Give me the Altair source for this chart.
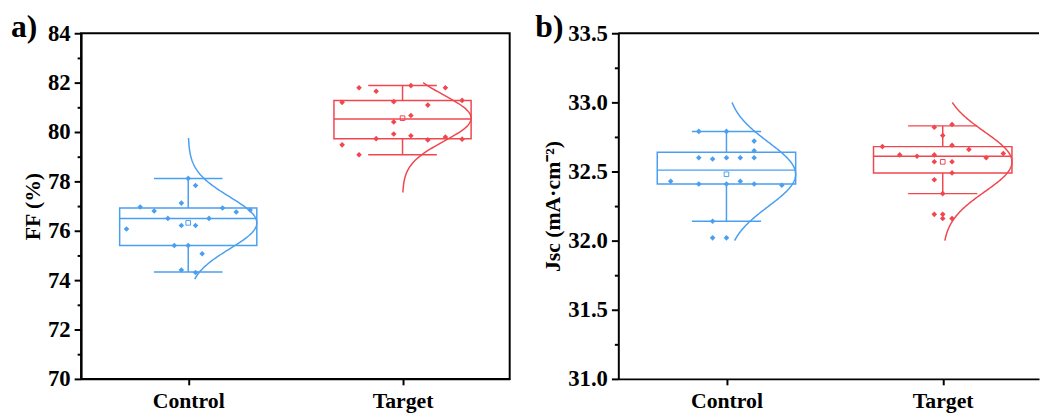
import altair as alt
import numpy as np
import pandas as pd

# ---------------- data ----------------
groups = ["Control", "Target"]

# panel a) FF (%) — individual points
ff_control = [78.12, 77.83, 77.12, 76.96, 76.80, 76.92, 76.76, 76.84, 76.50, 76.50,
              76.21, 76.21, 76.07, 75.40, 75.40, 75.07, 74.41, 74.31]
ff_control_jit = [0.000, 0.034, -0.032, -0.224, -0.159, 0.160, 0.224, 0.289, -0.095, 0.097,
                  -0.032, 0.034, -0.288, -0.065, 0.000, 0.065, -0.032, 0.034]
ff_target = [81.79, 81.88, 81.79, 81.65, 81.20, 81.23, 81.28, 81.09, 80.67, 80.41,
             79.92, 79.85, 79.73, 79.68, 79.80, 79.71, 79.48, 79.08]
ff_target_jit = [-0.203, 0.039, 0.200, -0.123, -0.282, -0.041, 0.278, 0.118, 0.039, -0.041,
                 -0.041, 0.039, -0.123, 0.118, 0.200, 0.278, -0.282, -0.203]
# box statistics: [Control, Target]
ff_q1 = [75.40, 79.73]
ff_median = [76.50, 80.53]
ff_q3 = [76.92, 81.28]
ff_whisker_lo = [74.33, 79.08]
ff_whisker_hi = [78.12, 81.88]
ff_mean = [76.32, 80.56]
ff_curve_range = [(74.04, 79.76), (77.55, 82.00)]

# panel b) Jsc (mA·cm-2) — individual points
jsc_control = [32.79, 32.79, 32.72, 32.65, 32.60, 32.59, 32.60, 32.60, 32.60,
               32.43, 32.41, 32.41, 32.41, 32.43, 32.40, 32.14, 32.02, 32.02]
jsc_control_jit = [-0.128, 0.000, 0.128, 0.128, -0.128, -0.064, 0.000, 0.064, 0.128,
                   -0.258, -0.128, 0.000, 0.128, 0.064, 0.256, -0.064, -0.064, 0.000]
jsc_target = [32.82, 32.84, 32.76, 32.68, 32.69, 32.66, 32.62, 32.61, 32.62, 32.60,
              32.63, 32.57, 32.57, 32.49, 32.44, 32.34, 32.19, 32.19, 32.16, 32.16]
jsc_target_jit = [-0.039, 0.043, 0.000, -0.279, 0.043, 0.121, -0.199, -0.119, -0.039, 0.201,
                  0.280, -0.039, 0.043, 0.043, -0.039, 0.000, -0.039, 0.000, 0.000, 0.043]
jsc_q1 = [32.41, 32.49]
jsc_median = [32.51, 32.61]
jsc_q3 = [32.64, 32.68]
jsc_whisker_lo = [32.14, 32.34]
jsc_whisker_hi = [32.79, 32.83]
jsc_mean = [32.48, 32.57]
jsc_curve_range = [(32.00, 33.00), (32.00, 33.00)]

ff_ticks = list(range(70, 85))
jsc_ticks = [31.0 + 0.25 * k for k in range(11)]

# ---------------- styling ----------------
FONT = "Liberation Serif"
BLUE = "#4a9ff0"
RED = "#f0474f"
HALF_BOX = 0.32
HALF_CAP = 0.16
H = 350


def panel(vals_list, jit_list, q1, med, q3, wlo, whi, mean_v, curve_ranges,
          ydomain, yticks, label_test, yfmt, ytitle, tag, width, xmax, tag_x, framed):
    pts, boxes, curves = [], [], []
    for i, (g, vals, jit, (clo, chi)) in enumerate(zip(groups, vals_list, jit_list, curve_ranges)):
        pos = i + 1
        sd = float(np.std(np.asarray(vals, float), ddof=1))
        for v, j in zip(vals, jit):
            pts.append(dict(group=g, x=pos + j, y=v))
        boxes.append(dict(group=g, pos=pos, left=pos - HALF_BOX, right=pos + HALF_BOX,
                          capl=pos - HALF_CAP, capr=pos + HALF_CAP,
                          q1=q1[i], med=med[i], q3=q3[i], lo=wlo[i], hi=whi[i], mean=mean_v[i]))
        ys = np.linspace(clo, chi, 150)
        xs = pos + HALF_BOX * np.exp(-(ys - mean_v[i]) ** 2 / (2 * sd ** 2))
        for k, (xx, yy) in enumerate(zip(xs, ys)):
            curves.append(dict(group=g, x=xx, y=yy, order=k))
    pts = pd.DataFrame(pts)
    boxes = pd.DataFrame(boxes)
    curves = pd.DataFrame(curves)

    xscale = alt.Scale(domain=[0.5, xmax], nice=False, zero=False)
    yscale = alt.Scale(domain=ydomain, nice=False, zero=False)
    xaxis = alt.Axis(values=[1, 2], labelExpr="datum.value == 1 ? 'Control' : 'Target'",
                     title=None, grid=False, labelFont=FONT, labelFontSize=22,
                     labelFontWeight="bold", labelColor="black", labelPadding=6,
                     tickSize=6, tickWidth=2, tickColor="black",
                     domainColor="black", domainWidth=2)
    yaxis = alt.Axis(values=yticks, labelExpr=label_test, format=yfmt, title=ytitle,
                     grid=False, labelFont=FONT, labelFontSize=23, labelFontWeight="bold",
                     labelColor="black", labelPadding=4,
                     tickSize={"condition": {"test": label_test.split(" ?")[0], "value": 7}, "value": 4},
                     tickWidth=2, tickColor="black", domainColor="black", domainWidth=2,
                     titleFont=FONT, titleFontSize=22, titleFontWeight="bold",
                     titleColor="black", titlePadding=3)

    def X(f):
        return alt.X(f, type="quantitative", scale=xscale, axis=xaxis)

    def Y(f):
        return alt.Y(f, type="quantitative", scale=yscale, axis=yaxis)

    col = alt.Color("group:N", scale=alt.Scale(domain=groups, range=[BLUE, RED]), legend=None)

    base_b = alt.Chart(boxes)
    box = base_b.mark_rect(fillOpacity=0, strokeWidth=1.5).encode(
        x=X("left"), x2="right", y=Y("q1"), y2="q3", stroke=col)
    medl = base_b.mark_rule(strokeWidth=1.5).encode(x=X("left"), x2="right", y=Y("med"), color=col)
    wh_up = base_b.mark_rule(strokeWidth=1.5).encode(x=X("pos"), y=Y("q3"), y2="hi", color=col)
    wh_lo = base_b.mark_rule(strokeWidth=1.5).encode(x=X("pos"), y=Y("lo"), y2="q1", color=col)
    cap_up = base_b.mark_rule(strokeWidth=1.5).encode(x=X("capl"), x2="capr", y=Y("hi"), color=col)
    cap_lo = base_b.mark_rule(strokeWidth=1.5).encode(x=X("capl"), x2="capr", y=Y("lo"), color=col)
    meanm = base_b.mark_point(shape="square", filled=False, size=22, strokeWidth=1, opacity=1).encode(
        x=X("pos"), y=Y("mean"), color=col)
    dots = alt.Chart(pts).mark_point(shape="diamond", filled=True, size=32, opacity=1).encode(
        x=X("x"), y=Y("y"), color=col)
    curve = alt.Chart(curves).mark_line(strokeWidth=1.5).encode(
        x=X("x"), y=Y("y"), order="order:Q", detail="group:N", color=col)
    label = alt.Chart(pd.DataFrame({"t": [tag]})).mark_text(
        align="left", baseline="alphabetic", font=FONT, fontSize=32, fontWeight="bold",
        color="black").encode(x=alt.value(tag_x), y=alt.value(4), text="t:N")

    layers = [box, medl, wh_up, wh_lo, cap_up, cap_lo, curve, dots, meanm, label]
    if framed:
        view = alt.ViewBackground(stroke="black", strokeWidth=2)
    else:
        view = alt.ViewBackground(stroke="transparent")
        top = alt.Chart(pd.DataFrame({"t": [0]})).mark_rule(color="black", strokeWidth=2).encode(
            x=alt.value(0), x2=alt.value(width), y=alt.value(0))
        layers.append(top)
    return alt.layer(*layers).properties(width=width, height=H, view=view)


pa = panel([ff_control, ff_target], [ff_control_jit, ff_target_jit],
           ff_q1, ff_median, ff_q3, ff_whisker_lo, ff_whisker_hi, ff_mean, ff_curve_range,
           [70, 84], ff_ticks, "datum.value % 2 == 0 ? datum.label : ''", "d",
           "FF (%)", "a)", 434, 2.5, -71, True)
wb = 426
pb = panel([jsc_control, jsc_target], [jsc_control_jit, jsc_target_jit],
           jsc_q1, jsc_median, jsc_q3, jsc_whisker_lo, jsc_whisker_hi, jsc_mean, jsc_curve_range,
           [31.0, 33.5], jsc_ticks, "round(datum.value * 4) % 2 == 0 ? datum.label : ''", ".1f",
           "Jsc (mA·cm⁻²)", "b)", wb, 0.5 + wb / 219.0, -84, False)

chart = alt.hconcat(pa, pb, spacing=110, bounds="flush").properties(
    padding={"left": 2, "top": 0, "right": 0, "bottom": 0},
    background="white")

chart.save("out.html", embed_options={"renderer": "svg", "actions": False})
